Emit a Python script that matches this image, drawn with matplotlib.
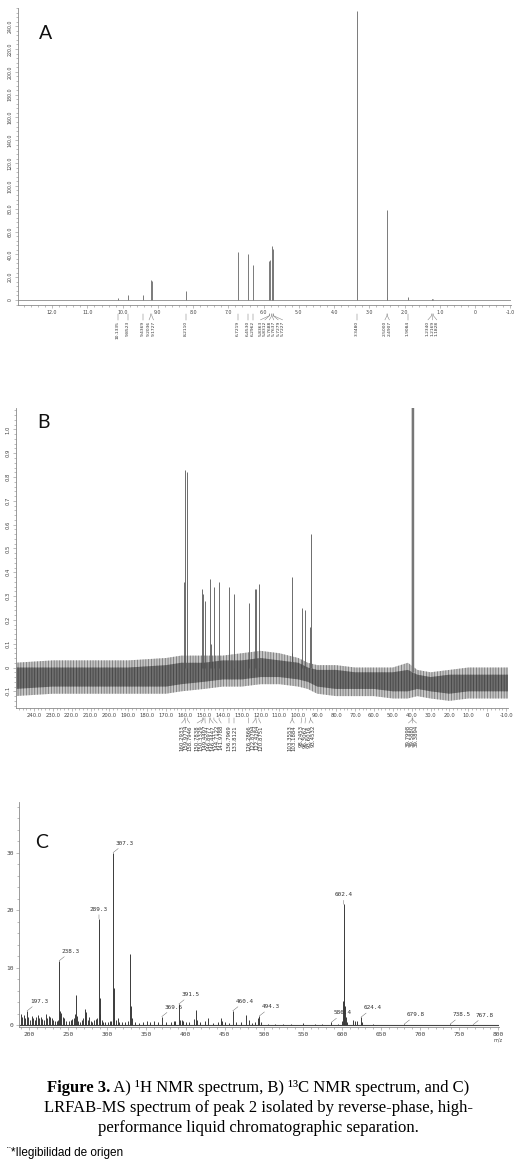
import numpy as np
import matplotlib
matplotlib.use("Agg")
import matplotlib.pyplot as plt
import matplotlib.transforms as mtransforms
from matplotlib.ticker import MultipleLocator, FuncFormatter

# ---- A) 1H NMR: peak positions (ppm) and heights
h_ppm = [10.1335, 9.8523, 9.4369, 9.2036, 9.1727, 8.2110, 6.7219, 6.4530, 6.2962,
         5.8363, 5.8312, 5.7688, 5.7637, 5.7279, 5.7227, 3.3480, 2.5000, 2.4907,
         1.9084, 1.2340, 1.2169, 1.1828]
h_int = [1.5, 4.5, 4.0, 17.5, 17.0, 7.5, 42, 40, 31,
         34, 35, 47, 46, 45, 44, 253, 79, 3,
         2.5, 0.8, 0.8, 0.6]

# ---- B) 13C NMR
c_ppm = [160.2933, 159.9774, 158.7946, 150.7838, 150.3329, 149.4497, 146.8977,
         146.4447, 144.7122, 141.9788, 136.7969, 133.8121, 126.2866, 122.8794,
         122.4284, 120.8751, 103.3553, 103.1884, 98.2453, 96.3062, 93.6016, 93.4532]
c_int = [0.36, 0.83, 0.82, 0.33, 0.31, 0.28, 0.37,
         0.10, 0.34, 0.36, 0.34, 0.31, 0.27, 0.33,
         0.33, 0.35, 0.38, 0.06, 0.25, 0.24, 0.17, 0.56]
dmso_ppm = [39.7998, 39.5880, 39.3894]
# baseline noise envelope
noise_ppm = [250, 230, 210, 190, 170, 162, 150, 140, 130, 120, 110, 100, 95, 90,
             80, 70, 60, 50, 42, 37, 30, 20, 10, 0, -11]
noise_hi = [0.02, 0.03, 0.03, 0.03, 0.04, 0.05, 0.05, 0.05, 0.06, 0.07, 0.06, 0.04, 0.02, 0.01,
            0.01, 0.0, 0.0, 0.0, 0.02, -0.01, -0.02, -0.01, 0.0, 0.0, 0.0]
noise_lo = [-0.12, -0.11, -0.11, -0.11, -0.11, -0.10, -0.09, -0.08, -0.08, -0.07, -0.07, -0.08, -0.09, -0.11,
            -0.12, -0.12, -0.12, -0.13, -0.13, -0.12, -0.13, -0.14, -0.13, -0.13, -0.13]
core_hi = [0.0, 0.0, 0.0, 0.0, 0.01, 0.02, 0.02, 0.03, 0.03, 0.04, 0.03, 0.02, 0.0, -0.01,
           -0.01, -0.02, -0.02, -0.02, -0.01, -0.03, -0.04, -0.03, -0.03, -0.03, -0.03]
core_lo = [-0.09, -0.08, -0.08, -0.08, -0.08, -0.07, -0.06, -0.05, -0.05, -0.04, -0.04, -0.05, -0.06, -0.08,
           -0.09, -0.09, -0.09, -0.10, -0.10, -0.09, -0.10, -0.11, -0.10, -0.10, -0.10]

# ---- C) LRFAB-MS
ms_mz = [189, 191, 193, 195, 197.3, 199, 201, 203, 205, 207, 209, 211, 213, 215, 217, 219,
         221, 223, 225, 227, 229, 231, 233, 235, 237, 238.3, 239, 240, 241, 243, 245, 247,
         251, 253, 255, 257, 259, 260, 261, 263, 265, 267, 269, 271, 272, 273, 275, 277,
         279, 281, 283, 285, 287, 289.3, 290, 291, 293, 295, 297, 301, 303, 305, 307.3, 308,
         309, 311, 313, 315, 319, 323, 327, 329, 330, 331, 335, 341, 345, 351, 355, 360,
         365, 369.6, 375, 381, 385, 387, 391.5, 393, 395, 397, 401, 405, 411, 413, 415, 419,
         425, 429, 435, 441, 445, 447, 451, 455, 460.4, 465, 471, 477, 481, 485, 489, 493,
         494.3, 497, 505, 515, 525, 535, 550, 565, 575, 586.4, 595, 600, 601, 602.4, 603, 604,
         605, 607, 614, 617, 619, 624.4, 626, 640, 679.8, 738.5, 767.8]
ms_int = [1.9, 1.5, 1.7, 1.2, 2.5, 1.4, 1.0, 1.6, 1.2, 1.0, 1.4, 1.7, 1.3, 1.5, 1.1, 1.0,
          1.9, 1.2, 1.6, 1.4, 1.2, 0.9, 0.7, 0.8, 1.0, 11.2, 2.4, 1.8, 2.1, 1.5, 1.2, 0.8,
          0.7, 0.9, 1.1, 1.3, 1.9, 5.2, 1.6, 0.8, 0.6, 0.9, 1.2, 1.8, 2.8, 2.3, 1.0, 1.5,
          0.8, 0.6, 0.9, 1.1, 1.2, 18.5, 4.7, 2.0, 0.9, 0.6, 0.5, 0.6, 0.8, 0.7, 30.0, 6.5,
          1.2, 0.9, 1.2, 0.6, 0.5, 0.6, 0.8, 12.4, 3.3, 1.2, 0.6, 0.4, 0.5, 0.7, 0.5, 0.8,
          0.5, 1.5, 0.5, 0.6, 0.8, 0.7, 3.7, 1.0, 0.9, 0.8, 0.5, 0.6, 1.1, 2.7, 0.9, 0.6,
          0.7, 1.3, 0.4, 0.6, 1.2, 0.7, 0.5, 0.4, 2.5, 0.5, 0.6, 1.7, 0.9, 0.4, 0.5, 1.2,
          1.6, 0.5, 0.3, 0.3, 0.3, 0.3, 0.4, 0.3, 0.3, 0.5, 0.3, 0.8, 4.2, 21.0, 11.5, 3.4,
          1.5, 0.5, 0.9, 0.8, 0.7, 1.4, 0.5, 0.2, 0.2, 0.2, 0.1]
ms_labels = ["197.3", "238.3", "289.3", "307.3", "369.6", "391.5", "460.4", "494.3",
             "586.4", "602.4", "624.4", "679.8", "738.5", "767.8"]

caption_bold = "Figure 3."
caption_rest = " A) \u00b9H NMR spectrum, B) \u00b9\u00b3C NMR spectrum, and C)"
caption_lines = ["LRFAB-MS spectrum of peak 2 isolated by reverse-phase, high-",
                 "performance liquid chromatographic separation."]
footnote = "\u00a8*Ilegibilidad de origen"

plt.rcParams["hatch.linewidth"] = 0.5

W, H = 516, 1164
fig = plt.figure(figsize=(W / 100, H / 100), dpi=100)


def box(left, top, right, bottom):
    return [left / W, 1 - bottom / H, (right - left) / W, (bottom - top) / H]


def spread(vals, gap):
    # push overlapping labels apart, keep each cluster centred
    groups = [[v] for v in sorted(vals, reverse=True)]
    while True:
        out = []
        for g in groups:
            if out:
                prev = out[-1]
                prev_end = np.mean(prev) - gap * (len(prev) - 1) / 2
                cur_start = np.mean(g) + gap * (len(g) - 1) / 2
                if prev_end - cur_start < gap:
                    out[-1] = prev + g
                    continue
            out.append(g)
        if len(out) == len(groups):
            break
        groups = out
    pos = []
    for g in groups:
        c = np.mean(g)
        pos += [c + gap * ((len(g) - 1) / 2 - i) for i in range(len(g))]
    return pos


def nmr_fmt(v, _):
    return "0" if abs(v) < 1e-9 else f"{v:.1f}"


def style_axis(ax, size):
    for s in ["top", "right"]:
        ax.spines[s].set_visible(False)
    for s in ["left", "bottom"]:
        ax.spines[s].set_color("#8a8a8a")
        ax.spines[s].set_linewidth(0.6)
    ax.tick_params(which="both", direction="out", color="#8a8a8a", width=0.4,
                   labelsize=size, labelcolor="#444", pad=1.5)
    ax.tick_params(which="major", length=2.2)
    ax.tick_params(which="minor", length=1.1)


def peak_labels(ax, ppm, gap, y0, y1, y2, size):
    tr = mtransforms.blended_transform_factory(ax.transData, ax.transAxes)
    srt = sorted(ppm, reverse=True)
    for p, q in zip(srt, spread(srt, gap)):
        ax.plot([p, p, q], [y0, y0 - 0.006, y1], transform=tr, clip_on=False,
                color="#777", lw=0.35)
        ax.text(q, y2, f"{p:.4f}", rotation=90, ha="center", va="top",
                fontsize=size, color="#333", transform=tr)


def panel_letter(ax, x, y, s):
    ax.text(x, y, s, transform=ax.transAxes, fontsize=14, family="Lato",
            color="#111", ha="center", va="center")


# ---------------- A
axA = fig.add_axes(box(18, 8, 511, 305))
axA.plot([13.0, -1.02], [0, 0], color="#8a8a8a", lw=0.6)
axA.vlines(h_ppm, 0, h_int, color="#7a7a7a", lw=0.7)
axA.set_xlim(12.97, -1.02)
axA.set_ylim(-4.4, 256)
axA.xaxis.set_major_locator(MultipleLocator(1))
axA.xaxis.set_minor_locator(MultipleLocator(0.2))
axA.yaxis.set_major_locator(MultipleLocator(20))
axA.yaxis.set_minor_locator(MultipleLocator(4))
axA.xaxis.set_major_formatter(FuncFormatter(nmr_fmt))
axA.yaxis.set_major_formatter(FuncFormatter(nmr_fmt))
style_axis(axA, 3.4)
axA.tick_params(axis="y", labelrotation=90)
for t in axA.get_yticklabels():
    t.set_va("center")
peak_labels(axA, h_ppm, 0.125, -0.030, -0.050, -0.054, 3.2)
panel_letter(axA, 0.055, 0.915, "A")

# ---------------- B
axB = fig.add_axes(box(16, 408, 508, 708))
axB.fill_between(noise_ppm, noise_lo, noise_hi, facecolor="#c4c4c4",
                 edgecolor="#6a6a6a", hatch="||||||", lw=0)
axB.fill_between(noise_ppm, core_lo, core_hi, facecolor="#6e6e6e",
                 edgecolor="#3c3c3c", hatch="||||||", lw=0)
axB.vlines(c_ppm, 0, c_int, color="#555", lw=0.6)
axB.vlines(dmso_ppm, -0.02, 2.0, color="#777", lw=1.0)
axB.set_xlim(249.5, -11)
axB.set_ylim(-0.17, 1.09)
axB.xaxis.set_major_locator(MultipleLocator(10))
axB.xaxis.set_minor_locator(MultipleLocator(2))
axB.yaxis.set_major_locator(MultipleLocator(0.1))
axB.yaxis.set_minor_locator(MultipleLocator(0.02))
axB.xaxis.set_major_formatter(FuncFormatter(nmr_fmt))
axB.yaxis.set_major_formatter(FuncFormatter(nmr_fmt))
style_axis(axB, 3.8)
axB.tick_params(axis="y", labelrotation=90)
for t in axB.get_yticklabels():
    t.set_va("center")
peak_labels(axB, c_ppm + dmso_ppm, 2.12, -0.033, -0.050, -0.057, 3.9)
panel_letter(axB, 0.055, 0.95, "B")

# ---------------- C
axC = fig.add_axes(box(19, 802, 499, 1027))
axC.plot([187, 801], [0, 0], color="#444", lw=0.8)
axC.vlines(ms_mz, 0, ms_int, color="#3a3a3a", lw=0.7)
axC.set_xlim(187, 801)
axC.set_ylim(-0.3, 38.8)
axC.xaxis.set_major_locator(MultipleLocator(50))
axC.xaxis.set_minor_locator(MultipleLocator(10))
axC.yaxis.set_major_locator(MultipleLocator(10))
axC.yaxis.set_minor_locator(MultipleLocator(2))
style_axis(axC, 4.5)
for t in axC.get_xticklabels() + axC.get_yticklabels():
    t.set_family("DejaVu Sans Mono")
for lab in ms_labels:
    mz = float(lab)
    h = ms_int[ms_mz.index(mz)]
    centred = lab in ("289.3", "602.4")
    axC.annotate(lab, xy=(mz, h), xytext=(0 if centred else 2, 5),
                 textcoords="offset points", ha="center" if centred else "left",
                 va="bottom", fontsize=4.3, family="DejaVu Sans Mono", color="#333",
                 arrowprops=dict(arrowstyle="-", lw=0.3, color="#555",
                                 shrinkA=0, shrinkB=0))
axC.text(800, -0.045, "m/z", transform=mtransforms.blended_transform_factory(
    axC.transData, axC.transAxes), ha="center", va="top", fontsize=3.5, color="#444")
panel_letter(axC, 0.048, 0.82, "C")

# ---------------- caption
serif = "Liberation Serif"
fs = 12
tb = fig.text(0, 1 - 1088 / H, caption_bold, fontsize=fs, family=serif,
              fontweight="bold", va="center")
tr_ = fig.text(0, 1 - 1088 / H, caption_rest, fontsize=fs, family=serif, va="center")
fig.canvas.draw()
r = fig.canvas.get_renderer()
wb = tb.get_window_extent(r).width
wr = tr_.get_window_extent(r).width
x0 = (W - wb - wr) / 2
tb.set_x(x0 / W)
tr_.set_x((x0 + wb) / W)
for i, line in enumerate(caption_lines):
    fig.text(0.5, 1 - (1108 + 19.5 * i) / H, line, fontsize=fs, family=serif,
             ha="center", va="center")
fig.text(7 / W, 1 - 1153 / H, footnote, fontsize=8.5, family="Liberation Sans",
         va="center")

fig.savefig("out.png", dpi=100)
